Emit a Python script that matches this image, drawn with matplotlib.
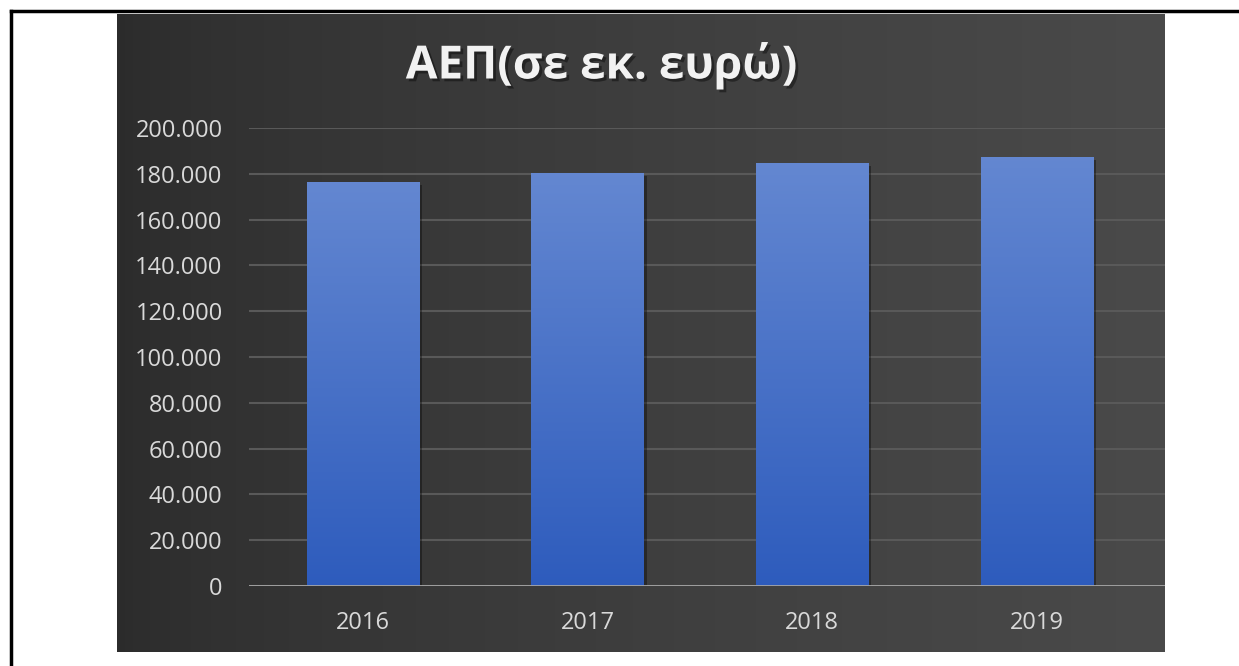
import numpy as np
import matplotlib.pyplot as plt
from matplotlib.lines import Line2D
from matplotlib.ticker import FuncFormatter
import matplotlib.patheffects as pe

# GDP in euros (millions)
years = ['2016', '2017', '2018', '2019']
gdp = [176488, 180218, 184714, 187456]
y_ticks = list(range(0, 200001, 20000))
title = 'ΑΕΠ(σε εκ. ευρώ)'

W, H = 1239, 666
fig = plt.figure(figsize=(W / 100, H / 100), dpi=100)
fig.patch.set_facecolor('white')

# dark chart panel with a soft left-to-right gradient
px0, px1, py0, py1 = 117, 1165, 14, 652
bg = fig.add_axes([px0 / W, 1 - py1 / H, (px1 - px0) / W, (py1 - py0) / H])
grad = np.linspace(0, 1, 256)
bg_cols = np.array([0.17, 0.17, 0.17]) + np.outer(grad ** 0.7, [0.12, 0.12, 0.12])
bg.imshow(bg_cols[np.newaxis, :, :], aspect='auto', extent=[0, 1, 0, 1])
bg.set_axis_off()

# plot area
ax0, ax1, ay0, ay1 = 249, 1165, 128, 586
ax = fig.add_axes([ax0 / W, 1 - ay1 / H, (ax1 - ax0) / W, (ay1 - ay0) / H])
ax.patch.set_alpha(0)
x = np.arange(len(years))
bars = ax.bar(x, gdp, width=0.5, color='#4a72cc', zorder=3)

# vertical gradient inside each bar
bar_grad = np.linspace(0, 1, 256)[:, None]
top_c = np.array([0.39, 0.53, 0.82])
bot_c = np.array([0.18, 0.36, 0.74])
bar_img = (top_c * (1 - bar_grad) + bot_c * bar_grad)[:, None, :].repeat(2, axis=1)
for b in bars:
    bx, by = b.get_x(), b.get_y()
    im = ax.imshow(bar_img, aspect='auto', zorder=4,
                   extent=[bx, bx + b.get_width(), by, by + b.get_height()])
    im.set_clip_path(b)
    b.set_path_effects([pe.SimplePatchShadow(offset=(2, -2), shadow_rgbFace='black', alpha=0.35),
                        pe.Normal()])

ax.set_xlim(-0.507, 3.57)
ax.set_ylim(0, 200000)
ax.set_yticks(y_ticks)
ax.yaxis.set_major_formatter(FuncFormatter(lambda v, p: f'{int(v):,}'.replace(',', '.')))
ax.set_xticks(x)
ax.set_xticklabels(years)
ax.grid(axis='y', color='#595959', linewidth=1.5, zorder=1)
ax.axhline(0, color='#a6a6a6', linewidth=2, zorder=5)
for s in ax.spines.values():
    s.set_visible(False)
ax.tick_params(axis='both', length=0, colors='#d9d9d9', labelsize=17)
ax.tick_params(axis='y', pad=19)
ax.tick_params(axis='x', pad=18)
for lab in ax.get_xticklabels() + ax.get_yticklabels():
    lab.set_fontfamily('Open Sans')

fig.text(602 / W, 1 - 65 / H, title, ha='center', va='center', fontsize=33,
         fontweight='bold', color='#f2f2f2', family='Open Sans',
         path_effects=[pe.withSimplePatchShadow(offset=(2, -2), shadow_rgbFace='black', alpha=0.4)])

# table cell border (top and left)
lw = 2.5
fig.add_artist(Line2D([11 / W, 11 / W], [0, 1 - 11 / H], color='black', lw=lw))
fig.add_artist(Line2D([11 / W, 1], [1 - 11 / H, 1 - 11 / H], color='black', lw=lw))

fig.savefig('out.png', dpi=100)
